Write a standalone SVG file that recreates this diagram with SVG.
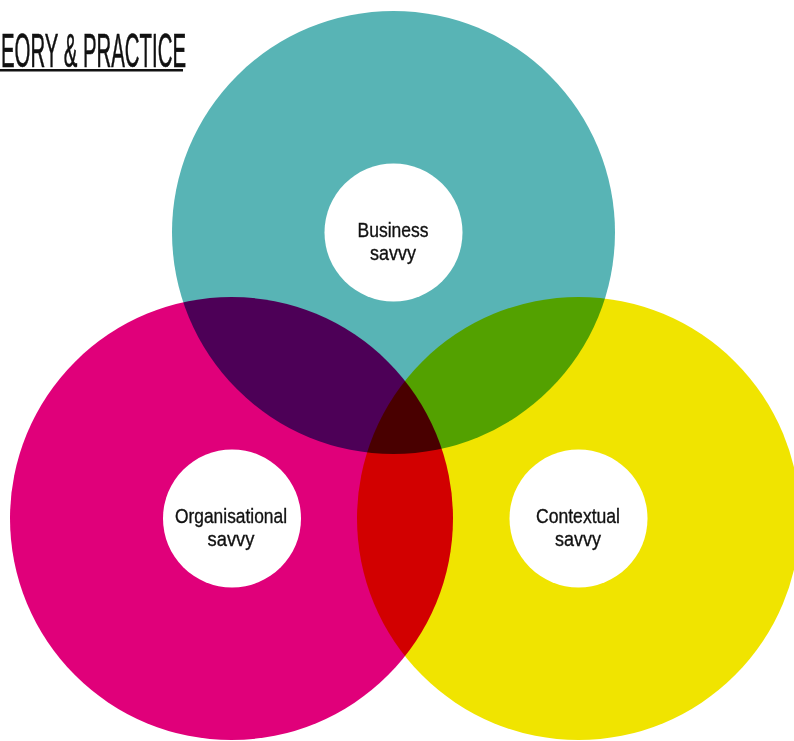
<svg xmlns="http://www.w3.org/2000/svg" width="794" height="741" viewBox="0 0 794 741">
  <style>
    .big { mix-blend-mode: multiply; }
    .hole { fill: #ffffff; }
    .lbl { font-family: "Liberation Sans", Arial, sans-serif; font-size: 20.5px; fill: #111111; stroke: #111111; stroke-width: 0.35; text-anchor: middle; }
    .title { font-family: "Liberation Sans", Arial, sans-serif; font-size: 48px; fill: #111111; stroke: #111111; stroke-width: 0.6; }
  </style>
  <rect x="0" y="0" width="794" height="741" fill="#ffffff"/>
  <g id="title">
    <text class="title" x="1" y="66.5" textLength="185" lengthAdjust="spacingAndGlyphs">EORY &amp; PRACTICE</text>
    <rect x="0" y="69" width="183" height="2.5" fill="#111111"/>
  </g>
  <g id="business">
    <circle class="big" cx="393.5" cy="232.5" r="221.5" fill="#58B4B5"/>
    <circle class="hole" cx="393.5" cy="232.5" r="69"/>
    <text class="lbl"><tspan x="393" y="236.5" textLength="71" lengthAdjust="spacingAndGlyphs">Business</tspan><tspan x="393" y="259.5" textLength="46" lengthAdjust="spacingAndGlyphs">savvy</tspan></text>
  </g>
  <g id="organisational">
    <circle class="big" cx="231.5" cy="518.5" r="221.5" fill="#E0007A"/>
    <circle class="hole" cx="232" cy="518.5" r="69"/>
    <text class="lbl"><tspan x="231" y="523" textLength="112" lengthAdjust="spacingAndGlyphs">Organisational</tspan><tspan x="231" y="546" textLength="47" lengthAdjust="spacingAndGlyphs">savvy</tspan></text>
  </g>
  <g id="contextual">
    <circle class="big" cx="578.5" cy="518.5" r="221.5" fill="#F0E400"/>
    <circle class="hole" cx="578.5" cy="518.5" r="69"/>
    <text class="lbl"><tspan x="578" y="523" textLength="84" lengthAdjust="spacingAndGlyphs">Contextual</tspan><tspan x="578" y="546" textLength="46" lengthAdjust="spacingAndGlyphs">savvy</tspan></text>
  </g>
  <g id="connectors"></g>
</svg>
